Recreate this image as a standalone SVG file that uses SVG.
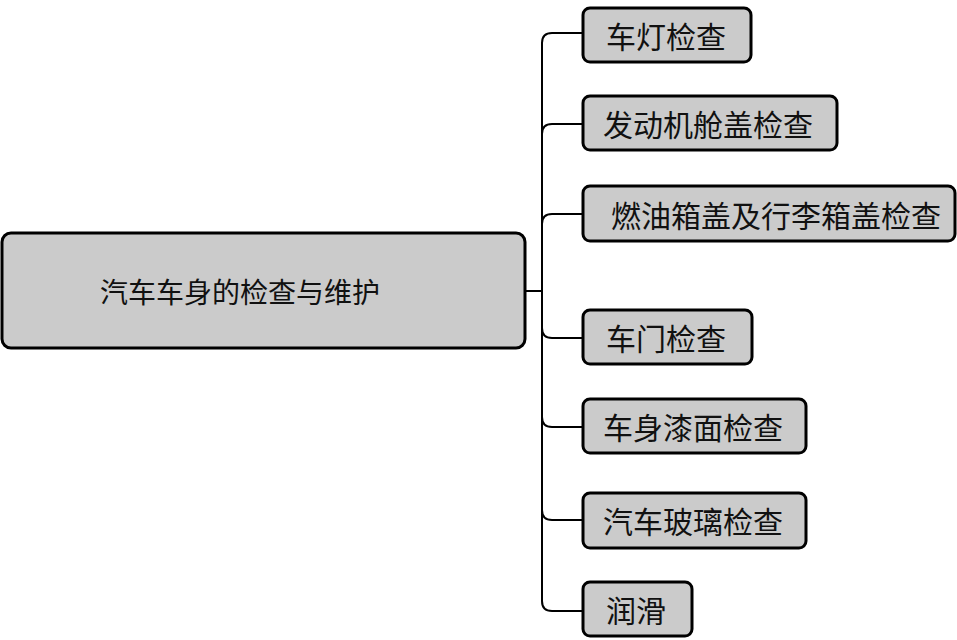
<svg xmlns="http://www.w3.org/2000/svg" width="957" height="640" viewBox="0 0 957 640">
<style>
.box{fill:#cbcbcb;stroke:#000;stroke-width:3}
.t{font-family:"Noto Sans CJK SC","Noto Sans",sans-serif;font-size:30px;fill:#111;text-anchor:middle;dominant-baseline:central}
.c{fill:none;stroke:#000;stroke-width:2}
</style>
<rect width="957" height="640" fill="#fff"/>
<g id="connectors">
<path class="c" d="M525,291 L542,291"/>
<path class="c" d="M542,43 L542,601"/>
<path class="c" d="M542,43 Q542,33 552,33 L583,33"/>
<path class="c" d="M542,134 Q542,124 552,124 L583,124"/>
<path class="c" d="M542,224 Q542,214 552,214 L583,214"/>
<path class="c" d="M542,328 Q542,338 552,338 L583,338"/>
<path class="c" d="M542,417 Q542,427 552,427 L583,427"/>
<path class="c" d="M542,510 Q542,520 552,520 L583,520"/>
<path class="c" d="M542,601 Q542,611 552,611 L583,611"/>
</g>
<g id="root">
<rect class="box" x="2" y="233" width="523" height="115" rx="9"/>
<text class="t" x="240" y="291" style="font-size:28px">汽车车身的检查与维护</text>
</g>
<g id="n1">
<rect class="box" x="583" y="8" width="168" height="54" rx="7"/>
<text class="t" x="666" y="35">车灯检查</text>
</g>
<g id="n2">
<rect class="box" x="583" y="96" width="254" height="54" rx="7"/>
<text class="t" x="708" y="123">发动机舱盖检查</text>
</g>
<g id="n3">
<rect class="box" x="583" y="186" width="372" height="55" rx="7"/>
<text class="t" x="776" y="214">燃油箱盖及行李箱盖检查</text>
</g>
<g id="n4">
<rect class="box" x="583" y="310" width="169" height="54" rx="7"/>
<text class="t" x="666" y="337">车门检查</text>
</g>
<g id="n5">
<rect class="box" x="583" y="399" width="223" height="54" rx="7"/>
<text class="t" x="693" y="426">车身漆面检查</text>
</g>
<g id="n6">
<rect class="box" x="583" y="493" width="223" height="55" rx="7"/>
<text class="t" x="693" y="520">汽车玻璃检查</text>
</g>
<g id="n7">
<rect class="box" x="583" y="582" width="109" height="54" rx="7"/>
<text class="t" x="636" y="609">润滑</text>
</g>
</svg>
